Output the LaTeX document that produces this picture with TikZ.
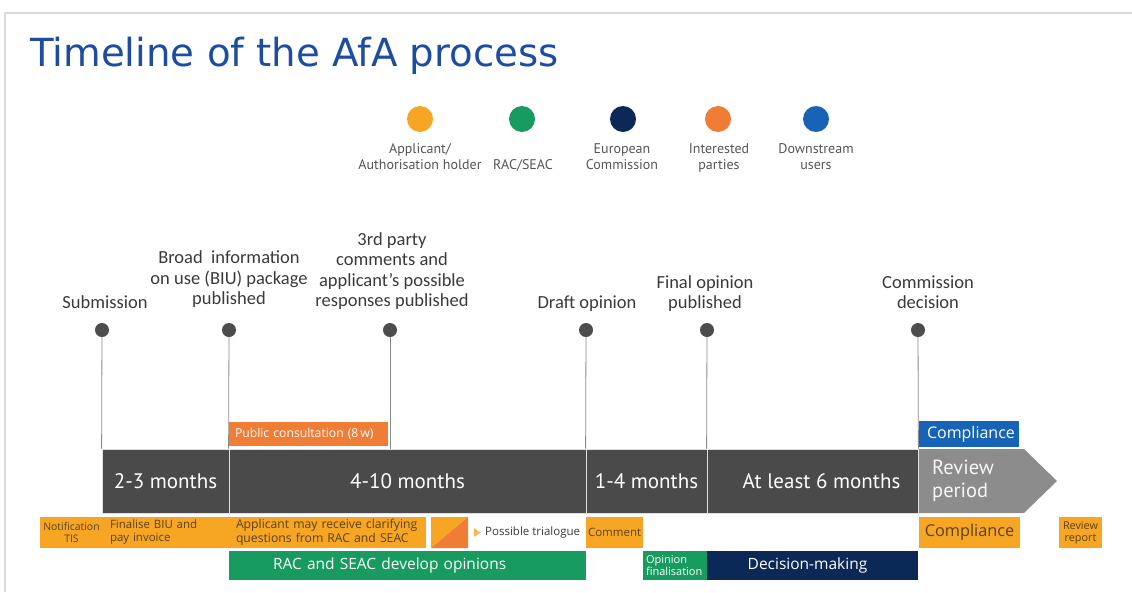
\documentclass[tikz,border=0pt]{standalone}
\usepackage{fontspec}
\setmainfont{Carlito}
\newfontfamily\ptsans{PT Sans}
\newfontfamily\osans{Open Sans}
\newfontfamily\dejavu{DejaVu Sans}
\definecolor{titleblue}{HTML}{1C4DA1}
\definecolor{dotgray}{HTML}{4D4D4D}
\definecolor{linegray}{HTML}{8A8A8A}
\definecolor{labelgray}{HTML}{3A3A3A}
\definecolor{bardark}{HTML}{4A4A4A}
\definecolor{reviewgray}{HTML}{8C8C8C}
\definecolor{apporange}{HTML}{F6A623}
\definecolor{racgreen}{HTML}{179B5F}
\definecolor{ecnavy}{HTML}{0C2856}
\definecolor{intorange}{HTML}{EF7D35}
\definecolor{dsblue}{HTML}{1763B8}
\definecolor{boxtext}{HTML}{5A4020}
\definecolor{framegray}{HTML}{DADADA}
\definecolor{leggray}{HTML}{555555}
\begin{document}
\begin{tikzpicture}[x=1pt,y=-1pt,
  dot/.style={circle, fill=dotgray, minimum size=14pt, inner sep=0pt},
  vline/.style={draw=linegray, line width=0.8pt},
  mlabel/.style={font=\fontsize{18.5}{20.5}\selectfont, text=labelgray, align=center, anchor=south, inner sep=0pt, execute at end node=\strut},
  legdot/.style={circle, minimum size=26pt, inner sep=0pt},
  leglabel/.style={font=\ptsans\fontsize{14}{16.5}\selectfont, text=leggray, align=center, anchor=south, inner sep=0pt, execute at end node=\strut},
  barseg/.style={fill=bardark, draw=white!75!gray, line width=0.8pt, minimum height=64pt, inner sep=0pt, text=white, font=\ptsans\fontsize{21}{24}\selectfont},
  obox/.style={fill=apporange, minimum height=31pt, inner ysep=0pt, text=boxtext, font=\osans\fontsize{11.5}{13}\selectfont},
  gbox/.style={fill=racgreen, minimum height=29pt, inner ysep=0pt, text=white, font=\osans\fontsize{15.5}{17}\selectfont},
]
\useasboundingbox (0,0) rectangle (1132,592);
% frame
\draw[framegray, line width=1.5pt] (5,592) -- (5,13) -- (1132,13);
% title
\node[anchor=base west, inner sep=0pt, text=titleblue, font=\dejavu\fontsize{38.7}{44}\selectfont] (title) at (30,66) {Timeline of the AfA process};
% legend
\node[legdot, fill=apporange] (lg1) at (420,119) {};
\node[legdot, fill=racgreen] (lg2) at (522,119) {};
\node[legdot, fill=ecnavy] (lg3) at (623,119) {};
\node[legdot, fill=intorange] (lg4) at (718,119) {};
\node[legdot, fill=dsblue] (lg5) at (816,119) {};
\node[leglabel] (ll1) at (420,175) {Applicant/\\Authorisation holder};
\node[leglabel] (ll2) at (523,175) {RAC/SEAC};
\node[leglabel] (ll3) at (622,175) {European\\Commission};
\node[leglabel] (ll4) at (719,175) {Interested\\parties};
\node[leglabel] (ll5) at (816,175) {Downstream\\users};
% bar segments
\node[barseg, minimum width=127pt] (s1) at (165.5,481) {2-3 months};
\node[barseg, minimum width=357pt] (s2) at (407.5,481) {4-10 months};
\node[barseg, minimum width=121pt] (s3) at (646.5,481) {1-4 months};
\node[barseg, minimum width=211pt] (s4) at (812.5,481) {\hspace*{18pt}At least 6 months};
\fill[reviewgray] (919,449) -- (1024,449) -- (1057,481) -- (1024,513) -- (919,513) -- cycle;
\node[anchor=west, inner sep=0pt, text=white!92!gray, align=left, font=\ptsans\fontsize{20.5}{23}\selectfont] (rp) at (932,481) {Review\\period};
\coordinate (t3) at (390,449);
% milestones
\node[dot] (d1) at (102,330) {};
\node[dot] (d2) at (229,330) {};
\node[dot] (d3) at (390,330) {};
\node[dot] (d4) at (586,330) {};
\node[dot] (d5) at (707,330) {};
\node[dot] (d6) at (918,330) {};
\draw[vline] (d1) -- (s1.north west);
\draw[vline] (d2) -- (s2.north west);
\draw[vline] (d3) -- (t3);
\draw[vline] (d4) -- (s3.north west);
\draw[vline] (d5) -- (s4.north west);
\draw[vline] (d6) -- (s4.north east);
\node[mlabel] (m1) at (105,315) {Submission};
\node[mlabel] (m2) at (229,311) {Broad\ \ information\\on use (BIU) package\\published};
\node[mlabel] (m3) at (392,313) {3rd party\\comments and\\applicant's possible\\responses published};
\node[mlabel] (m4) at (587,315) {Draft opinion};
\node[mlabel] (m5) at (705,315) {Final opinion\\published};
\node[mlabel] (m6) at (928,315) {Commission\\decision};
% top boxes
\node[fill=intorange, minimum height=24pt, inner ysep=0pt, inner xsep=6pt, text width=147pt, align=left, text=white, font=\osans\fontsize{12.2}{14}\selectfont] (pc) at (308.5,434) {Public consultation (8\,w)};
\node[fill=dsblue, minimum height=26pt, inner ysep=0pt, inner xsep=8pt, text width=84pt, align=left, text=white, font=\osans\fontsize{16}{18}\selectfont] (cb) at (969,434) {Compliance};
% orange row
\node[obox, inner xsep=1pt, text width=61pt, align=center, font=\osans\fontsize{10.4}{12}\selectfont] (nt) at (71.5,532.5) {Notification\\TIS};
\node[obox, inner xsep=7pt, text width=112pt, align=left, font=\osans\fontsize{11.5}{13}\selectfont] (fb) at (166,532.5) {Finalise BIU and\\pay invoice};
\node[obox, inner xsep=7pt, text width=183pt, align=left, font=\osans\fontsize{12.2}{13.5}\selectfont] (ap) at (327.5,532.5) {Applicant may receive clarifying\\questions from RAC and SEAC};
\fill[apporange] (431,517) -- (468,517) -- (431,548) -- cycle;
\fill[intorange] (468,517) -- (468,548) -- (431,548) -- cycle;
\fill[apporange!80!white] (474,528) -- (480.5,532.5) -- (474,537) -- cycle;
\node[anchor=west, inner sep=0pt, text=labelgray, font=\osans\fontsize{11.5}{14}\selectfont] (tri) at (485,533) {Possible trialogue};
\node[obox, inner xsep=2pt, text width=53pt, align=left, font=\osans\fontsize{11.5}{13}\selectfont] (cm) at (614.5,532.5) {Comment};
\node[obox, inner xsep=0pt, minimum width=101pt, font=\osans\fontsize{16.3}{18}\selectfont] (cp) at (969.5,532.5) {Compliance};
\node[obox, inner xsep=0pt, minimum width=43pt, align=center, font=\osans\fontsize{10.8}{12}\selectfont] (rr) at (1080.5,532.5) {Review\\report};
% green / navy row
\node[gbox, inner xsep=44pt, text width=269pt, align=left] (dev) at (407.5,565.5) {RAC and SEAC develop opinions};
\node[gbox, inner xsep=3pt, text width=58pt, align=left, font=\osans\fontsize{11}{12.5}\selectfont] (of) at (675,565.5) {Opinion\\finalisation};
\node[gbox, fill=ecnavy, inner xsep=0pt, minimum width=211pt] (dm) at (812.5,565.5) {\hspace*{-10pt}Decision-making};
\end{tikzpicture}
\end{document}
